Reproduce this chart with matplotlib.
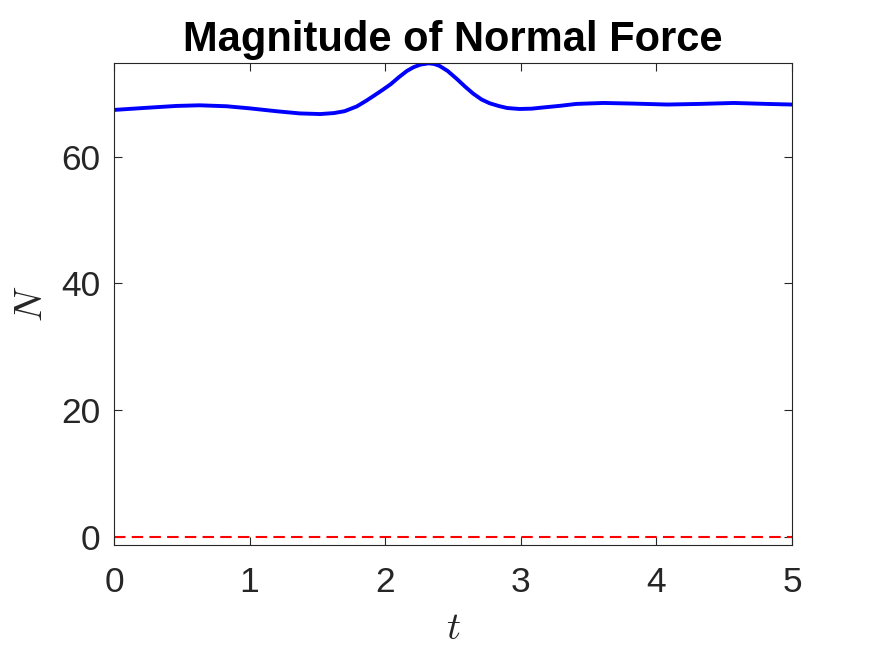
import matplotlib.pyplot as plt
import numpy as np

# values
t = [0.0, 0.22, 0.46, 0.63, 0.83, 1.0, 1.2, 1.37, 1.52, 1.62, 1.70, 1.79,
     1.86, 1.91, 1.98, 2.04, 2.10, 2.16, 2.21, 2.26, 2.32, 2.36, 2.40, 2.46,
     2.53, 2.59, 2.65, 2.71, 2.77, 2.84, 2.90, 2.99, 3.08, 3.17, 3.29, 3.41,
     3.61, 3.83, 4.08, 4.32, 4.57, 4.81, 5.0]
N = [67.35, 67.66, 67.98, 68.08, 67.93, 67.6, 67.14, 66.8, 66.7, 66.85, 67.15, 67.9,
     68.8, 69.5, 70.5, 71.4, 72.5, 73.5, 74.1, 74.5, 74.7, 74.6, 74.3, 73.5,
     72.2, 71.0, 69.9, 69.0, 68.4, 67.95, 67.65, 67.5, 67.55, 67.75, 68.0, 68.3,
     68.45, 68.35, 68.2, 68.3, 68.45, 68.3, 68.2]
x_ticks = [0, 1, 2, 3, 4, 5]
y_ticks = [0, 20, 40, 60]

plt.rcParams['font.family'] = 'Liberation Sans'
plt.rcParams['mathtext.fontset'] = 'cm'

fig = plt.figure(figsize=(8.75, 6.57), dpi=100)
ax = fig.add_axes([0.1303, 0.1705, 0.7749, 0.7336])

ax.plot(t, N, color="blue", linewidth=2.8, solid_joinstyle="round")
ax.plot([0, 5], [0, 0], color="red", linewidth=1.5, linestyle=(0, (5.5, 3)))

ax.set_xlim(0, 5)
ax.set_ylim(-1.26, 74.75)
ax.set_xticks(x_ticks)
ax.set_yticks(y_ticks)
ax.tick_params(direction="in", length=6, width=0.8, colors="#262626",
               labelsize=25.5, top=True, right=True)
ax.tick_params(axis="x", pad=15)
ax.tick_params(axis="y", pad=10)
for s in ax.spines.values():
    s.set_color("#262626")
    s.set_linewidth(0.8)

ax.set_xlabel(r"$t$", fontsize=28, color="#262626", labelpad=9)
ax.set_ylabel(r"$N$", fontsize=28, color="#262626", labelpad=8)
ax.set_title("Magnitude of Normal Force", fontsize=30, fontweight="bold", pad=9)

fig.savefig("out.png", dpi=100)
